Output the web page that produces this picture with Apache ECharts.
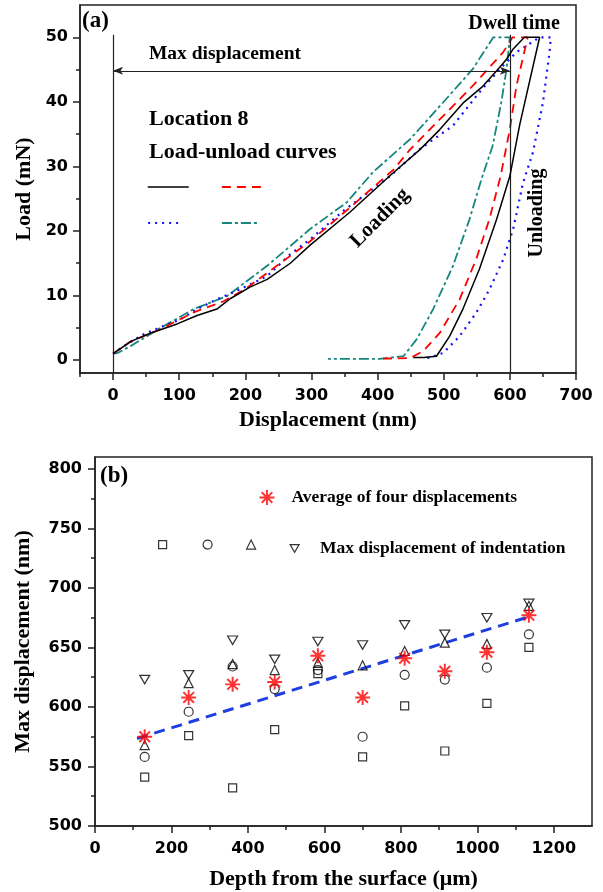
<!DOCTYPE html>
<html><head><meta charset="utf-8">
<script src="https://cdn.jsdelivr.net/npm/echarts@6/dist/echarts.min.js"></script>
<style>html,body{margin:0;padding:0;background:#fff}#c{width:603px;height:892px}</style>
</head><body><div id="c"></div>
<script>
// ---------- Panel (a): load-unload curves (displacement nm, load mN) ----------
const t1X = [0, 27, 57, 97, 127, 157, 177, 207, 233, 268, 298, 358, 419, 464, 494, 529, 559, 580, 595, 605, 622, 645, 615, 600, 580, 554, 529, 509, 489, 470, 454];
const t1Y = [1.0, 2.9, 4.2, 5.6, 6.9, 7.9, 9.5, 11.3, 12.5, 15.0, 17.8, 22.9, 28.6, 32.6, 35.7, 39.8, 42.4, 44.8, 46.6, 48.2, 50.0, 50.0, 36.5, 28.5, 21.8, 14.1, 7.9, 3.7, 0.6, 0.4, 0.4];
const t2X = [0, 27, 72, 122, 167, 200, 233, 298, 358, 424, 449, 499, 544, 590, 604, 627, 610, 600, 586, 569, 549, 524, 494, 469, 449, 400];
const t2Y = [1.0, 2.9, 4.8, 7.4, 9.1, 11.0, 13.5, 18.4, 23.6, 29.5, 32.6, 37.8, 42.5, 47.7, 50.0, 50.0, 42.5, 35.8, 28.5, 21.8, 15.6, 9.4, 4.2, 1.4, 0.3, 0.2];
const t3X = [0, 17, 44, 77, 102, 127, 157, 182, 213, 233, 268, 298, 348, 419, 464, 514, 554, 585, 610, 645, 662, 660, 650, 635, 620, 605, 590, 569, 549, 524, 499, 479, 474];
const t3Y = [1.0, 2.2, 3.9, 5.3, 6.3, 7.9, 9.4, 10.5, 12.0, 13.0, 16.4, 18.7, 23.1, 28.5, 32.7, 36.3, 41.5, 45.1, 47.7, 50.0, 50.0, 47.7, 39.9, 32.2, 27.5, 20.3, 15.6, 10.9, 7.3, 3.7, 1.1, 0.4, 0.3];
const t4X = [0, 7, 27, 72, 122, 172, 233, 298, 353, 393, 449, 499, 544, 575, 600, 595, 587, 574, 557, 539, 514, 484, 459, 439, 403, 325];
const t4Y = [1.0, 1.1, 2.2, 5.0, 7.9, 9.9, 14.6, 20.3, 24.4, 29.1, 34.2, 39.9, 45.1, 50.0, 50.0, 45.1, 39.9, 33.2, 28.0, 21.8, 14.6, 7.9, 3.2, 0.6, 0.2, 0.2];
const maxDisp = 600;      // nm, "Max displacement" marker
const arrowLoad = 44.8;   // mN, height of the arrow
const topLoad = 50.4;     // mN, top of the vertical guides

const xLabelsA = [0, 100, 200, 300, 400, 500, 600, 700];
const xMinorA = [-50, 50, 150, 250, 350, 450, 550, 650];
const yLabelsA = [0, 10, 20, 30, 40, 50];
const yMinorA = [5, 15, 25, 35, 45];

// ---------- Panel (b): max displacement vs depth ----------
const depth = [130, 245, 360, 470, 583, 700, 810, 915, 1025, 1135];
const sqVals = [541, 576, 532, 581, 628, 558, 601, 563, 603, 650];
const ciVals = [558, 596, 634, 615, 631, 575, 627, 623, 633, 661];
const upVals = [568, 620, 636, 631, 637, 635, 647, 654, 653, 685];
const dnVals = [623, 627, 656, 640, 655, 652, 669, 661, 675, 687];
const avgVals = [575, 608, 619, 621, 643, 608, 641, 630, 646, 677];
const fitX = [110, 1137];
const fitY = [573.5, 676];

const xLabelsB = [0, 200, 400, 600, 800, 1000, 1200];
const xMinorB = [100, 300, 500, 700, 900, 1100];
const yLabelsB = [500, 550, 600, 650, 700, 750, 800];
const yMinorB = [525, 575, 625, 675, 725, 775];

// ---------- helpers ----------
const serif = '"Liberation Serif", "Times New Roman", serif';
const sans = '"DejaVu Sans", sans-serif';
const axisColor = '#222';
const pairs = (xs, ys) => xs.map((x, i) => [x, ys[i]]);

function mainAxis(dim, grid, min, max, labels, name, gap, margin) {
  return {
    gridIndex: grid, type: 'value', min, max,
    position: dim === 'x' ? 'bottom' : 'left',
    name, nameLocation: 'middle', nameGap: gap,
    nameTextStyle: { fontFamily: serif, fontWeight: 'bold', fontSize: 22, color: '#000' },
    axisLine: { show: true, onZero: false, lineStyle: { color: axisColor, width: 1.5 } },
    axisTick: { show: true, inside: false, length: 7, customValues: labels, lineStyle: { color: axisColor, width: 1.5 } },
    axisLabel: { show: true, customValues: labels, margin, formatter: (v) => String(v),
      fontFamily: sans, fontWeight: 'bold', fontSize: 16, color: '#000' },
    splitLine: { show: false }
  };
}
function minorAxis(dim, grid, min, max, ticks) {
  return {
    gridIndex: grid, type: 'value', min, max,
    position: dim === 'x' ? 'bottom' : 'left',
    axisLine: { show: false, onZero: false },
    axisTick: { show: true, inside: false, length: 4, customValues: ticks, lineStyle: { color: axisColor, width: 1.5 } },
    axisLabel: { show: false }, splitLine: { show: false }
  };
}
function lineLegend(name, left, top, w, width) {
  return { data: [name], left, top, itemWidth: w, itemHeight: 14, padding: 0, selectedMode: false,
    formatter: () => '', itemStyle: { opacity: 0 }, lineStyle: { width } };
}
function symLegend(name, left, top, size, textPad) {
  return { data: [name], left, top, itemWidth: size, itemHeight: size, padding: 0, selectedMode: false,
    formatter: textPad == null ? () => '' : (n) => n,
    itemStyle: { borderWidth: 1.2 },
    textStyle: { fontFamily: serif, fontWeight: 'bold', fontSize: 17.5, color: '#000', padding: [0, 0, 0, textPad || 0] } };
}
const starPath = 'path://M8.7,0L11.3,0L11.3,20L8.7,20Z M0,8.7L20,8.7L20,11.3L0,11.3Z M3.85,2.01L17.99,16.15L16.15,17.99L2.01,3.85Z M17.99,3.85L3.85,17.99L2.01,16.15L16.15,2.01Z';
const downTri = 'path://M0,0L10,0L5,8.66Z';
const hollow = { color: 'rgba(0,0,0,0)', borderColor: '#000', borderWidth: 1.2 };

function txt(text, x, y, size, align, rot) {
  return { type: 'text', x, y, rotation: rot || 0, silent: true, z: 100,
    style: { text, font: 'bold ' + size + 'px ' + serif, fill: '#000',
      align: align || 'left', verticalAlign: 'middle', textAlign: align || 'left', textVerticalAlign: 'middle' } };
}

const chart = echarts.init(document.getElementById('c'));
chart.setOption({
  animation: false,
  backgroundColor: '#fff',
  grid: [
    { left: 80, top: 5, right: 27, bottom: 519, show: true, borderColor: axisColor, borderWidth: 1.5, backgroundColor: 'transparent' },
    { left: 95, top: 457, right: 11, bottom: 66, show: true, borderColor: axisColor, borderWidth: 1.5, backgroundColor: 'transparent' }
  ],
  xAxis: [
    mainAxis('x', 0, -50, 700, xLabelsA, 'Displacement (nm)', 36, 15),
    minorAxis('x', 0, -50, 700, xMinorA),
    mainAxis('x', 1, 0, 1300, xLabelsB, 'Depth from the surface (\u03bcm)', 42, 15),
    minorAxis('x', 1, 0, 1300, xMinorB)
  ],
  yAxis: [
    mainAxis('y', 0, -2, 55, yLabelsA, 'Load (mN)', 43, 12),
    minorAxis('y', 0, -2, 55, yMinorA),
    mainAxis('y', 1, 500, 810, yLabelsB, 'Max displacement (nm)', 61, 13),
    minorAxis('y', 1, 500, 810, yMinorB)
  ],
  legend: [
    lineLegend('Test 1', 147, 180, 41, 1.5),
    lineLegend('Test 2', 221, 180, 41, 1.8),
    lineLegend('Test 3', 147, 216, 33, 2.2),
    lineLegend('Test 4', 221, 216, 38, 1.8),
    symLegend('Average of four displacements', 259.5, 488.5, 15, 12),
    symLegend('Square', 158, 540, 8),
    symLegend('Circle', 202.5, 539.5, 9),
    symLegend('Up', 246, 539.5, 9),
    symLegend('Max displacement of indentation', 289.5, 539.5, 9, 16)
  ],
  graphic: [
    txt('(a)', 82, 21, 23),
    txt('Dwell time', 514, 24, 20, 'center'),
    txt('Max displacement', 225, 54, 19.5, 'center'),
    txt('Location 8', 149, 119, 22),
    txt('Load-unload curves', 149, 152, 22),
    txt('Loading', 380, 218, 21, 'center', Math.PI / 4),
    txt('Unloading', 537, 213, 20, 'center', Math.PI / 2),
    txt('(b)', 100, 476, 23)
  ],
  series: [
    { type: 'line', name: 'Test 1', xAxisIndex: 0, yAxisIndex: 0, data: pairs(t1X, t1Y), symbol: 'none', z: 5,
      lineStyle: { color: '#000', width: 1.5 }, itemStyle: { color: '#000' },
      markLine: { silent: true, animation: false, symbol: ['none', 'none'], label: { show: false },
        lineStyle: { color: axisColor, width: 1.2, type: 'solid' },
        data: [
          [{ coord: [0, -2] }, { coord: [0, topLoad] }],
          [{ coord: [maxDisp, -2] }, { coord: [maxDisp, topLoad] }],
          [{ coord: [maxDisp, arrowLoad], symbol: 'arrow', symbolSize: [6, 10] }, { coord: [0, arrowLoad], symbol: 'arrow', symbolSize: [6, 10] }]
        ] } },
    { type: 'line', name: 'Test 2', xAxisIndex: 0, yAxisIndex: 0, data: pairs(t2X, t2Y), symbol: 'none', z: 4,
      lineStyle: { color: '#ff0000', width: 1.8, type: [9, 6] }, itemStyle: { color: '#ff0000' } },
    { type: 'line', name: 'Test 3', xAxisIndex: 0, yAxisIndex: 0, data: pairs(t3X, t3Y), symbol: 'none', z: 3,
      lineStyle: { color: '#1010ff', width: 2.2, type: [2, 5] }, itemStyle: { color: '#1010ff' } },
    { type: 'line', name: 'Test 4', xAxisIndex: 0, yAxisIndex: 0, data: pairs(t4X, t4Y), symbol: 'none', z: 2,
      lineStyle: { color: '#15877d', width: 1.8, type: [10, 3, 3, 3] }, itemStyle: { color: '#15877d' } },

    { type: 'line', name: 'Fit', xAxisIndex: 2, yAxisIndex: 2, data: pairs(fitX, fitY), symbol: 'none', z: 2,
      lineStyle: { color: '#1e3fe0', width: 3, type: [11, 7] } },
    { type: 'scatter', name: 'Square', xAxisIndex: 2, yAxisIndex: 2, data: pairs(depth, sqVals), symbol: 'rect', symbolSize: 8, itemStyle: hollow, z: 3 },
    { type: 'scatter', name: 'Circle', xAxisIndex: 2, yAxisIndex: 2, data: pairs(depth, ciVals), symbol: 'circle', symbolSize: 9, itemStyle: hollow, z: 3 },
    { type: 'scatter', name: 'Up', xAxisIndex: 2, yAxisIndex: 2, data: pairs(depth, upVals), symbol: 'triangle', symbolSize: 9, itemStyle: hollow, z: 3 },
    { type: 'scatter', name: 'Max displacement of indentation', xAxisIndex: 2, yAxisIndex: 2, data: pairs(depth, dnVals), symbol: downTri, symbolSize: [10, 8.5], itemStyle: hollow, z: 3 },
    { type: 'scatter', name: 'Average of four displacements', xAxisIndex: 2, yAxisIndex: 2, data: pairs(depth, avgVals), symbol: starPath, symbolSize: 15, itemStyle: { color: '#ff0000' }, z: 4 }
  ]
});
</script>
</body></html>
